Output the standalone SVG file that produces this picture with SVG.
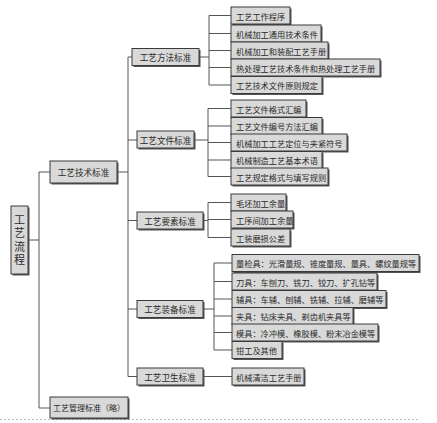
<svg xmlns="http://www.w3.org/2000/svg" width="437" height="423" viewBox="0 0 437 423">
<style>
.bg{fill:#ffffff}
.sh{fill:#555555}
.box{fill:#d9d9d9;stroke:#3a3a3a;stroke-width:1}
.ln{stroke:#555555;stroke-width:1;fill:none}
.t{font-family:"Noto Sans CJK SC","Noto Sans CJK JP",sans-serif;font-size:8.2px;fill:#2a2a2a;dominant-baseline:central}
.c{text-anchor:middle;font-size:8.6px}
.r{font-family:"Noto Sans CJK SC","Noto Sans CJK JP",sans-serif;font-size:11px;fill:#2a2a2a;writing-mode:vertical-rl;text-orientation:upright;letter-spacing:2.5px;text-anchor:middle}
.dot{stroke:#bbbbbb;stroke-width:1;stroke-dasharray:2 2;fill:none}
</style>
<rect class="bg" x="0" y="0" width="437" height="423"/>
<g id="connectors">
<path class="ln" d="M28 240H39M39 172V408M39 172H50M39 408H50"/>
<path class="ln" d="M117 172H128M128 57V376.5M128 57H132M128 140H137M128 220.5H137M128 309H137M128 376.5H137"/>
<path class="ln" d="M199 57H209M209 15.5V85M209 15.5H231M209 33.5H231M209 50.5H231M209 67.5H231M209 85H231"/>
<path class="ln" d="M194 140H208M208 108.5V176.5M208 108.5H231M208 126H231M208 142.5H231M208 160H231M208 176.5H231"/>
<path class="ln" d="M203 220.5H208M208 202.5V237.5M208 202.5H231M208 219.5H231M208 237.5H231"/>
<path class="ln" d="M203 309H214M214 263V350M214 263H232M214 281.5H232M214 299H232M214 316H232M214 332.5H232M214 350H232"/>
<path class="ln" d="M203 376.5H232"/>
</g>
<path class="dot" d="M0 419.5H420"/>
<g id="root">
<rect class="sh" x="12.5" y="207.5" width="17" height="68"/>
<rect class="box" x="11" y="206" width="17" height="68"/>
<text class="r" x="19.5" y="241">工艺流程</text>
</g>
<g id="n-jishu">
<rect class="sh" x="51.5" y="162.5" width="67" height="22"/>
<rect class="box" x="50" y="161" width="67" height="22"/>
<text class="t c" x="83.5" y="172">工艺技术标准</text>
</g>
<g id="n-guanli">
<rect class="sh" x="51.5" y="398.5" width="78" height="21"/>
<rect class="box" x="50" y="397" width="78" height="21"/>
<text class="t c" x="89" y="407.5" style="font-size:8px">工艺管理标准（略）</text>
</g>
<g id="n-fangfa">
<rect class="sh" x="133.5" y="50" width="67" height="17"/>
<rect class="box" x="132" y="48.5" width="67" height="17"/>
<text class="t c" x="165.5" y="57">工艺方法标准</text>
</g>
<g id="n-wenjian">
<rect class="sh" x="138.5" y="132.5" width="57" height="17"/>
<rect class="box" x="137" y="131" width="57" height="17"/>
<text class="t c" x="165.5" y="139.5">工艺文件标准</text>
</g>
<g id="n-yaosu">
<rect class="sh" x="138.5" y="213.5" width="66" height="17"/>
<rect class="box" x="137" y="212" width="66" height="17"/>
<text class="t c" x="170" y="220.5">工艺要素标准</text>
</g>
<g id="n-zhuangbei">
<rect class="sh" x="138.5" y="302" width="66" height="17"/>
<rect class="box" x="137" y="300.5" width="66" height="17"/>
<text class="t c" x="170" y="309">工艺装备标准</text>
</g>
<g id="n-weisheng">
<rect class="sh" x="138.5" y="369.5" width="66" height="17"/>
<rect class="box" x="137" y="368" width="66" height="17"/>
<text class="t c" x="170" y="376.5">工艺卫生标准</text>
</g>
<g id="f1"><rect class="sh" x="232.5" y="8.5" width="59" height="17"/><rect class="box" x="231" y="7" width="59" height="17"/><text class="t" x="236" y="15.5">工艺工作程序</text></g>
<g id="f2"><rect class="sh" x="232.5" y="26.5" width="90" height="17"/><rect class="box" x="231" y="25" width="90" height="17"/><text class="t" x="236" y="33.5">机械加工通用技术条件</text></g>
<g id="f3"><rect class="sh" x="232.5" y="43.5" width="97" height="17"/><rect class="box" x="231" y="42" width="97" height="17"/><text class="t" x="236" y="50.5">机械加工和装配工艺手册</text></g>
<g id="f4"><rect class="sh" x="232.5" y="60.5" width="149" height="17"/><rect class="box" x="231" y="59" width="149" height="17"/><text class="t" x="236" y="67.5">热处理工艺技术条件和热处理工艺手册</text></g>
<g id="f5"><rect class="sh" x="232.5" y="78" width="91" height="17"/><rect class="box" x="231" y="76.5" width="91" height="17"/><text class="t" x="236" y="85">工艺技术文件原则规定</text></g>
<g id="w1"><rect class="sh" x="232.5" y="101.5" width="75" height="17"/><rect class="box" x="231" y="100" width="75" height="17"/><text class="t" x="236" y="108.5">工艺文件格式汇编</text></g>
<g id="w2"><rect class="sh" x="232.5" y="119" width="91" height="17"/><rect class="box" x="231" y="117.5" width="91" height="17"/><text class="t" x="236" y="126">工艺文件编号方法汇编</text></g>
<g id="w3"><rect class="sh" x="232.5" y="135.5" width="116" height="17"/><rect class="box" x="231" y="134" width="116" height="17"/><text class="t" x="236" y="142.5">机械加工工艺定位与夹紧符号</text></g>
<g id="w4"><rect class="sh" x="232.5" y="153" width="91" height="17"/><rect class="box" x="231" y="151.5" width="91" height="17"/><text class="t" x="236" y="160">机械制造工艺基本术语</text></g>
<g id="w5"><rect class="sh" x="232.5" y="169.5" width="97" height="17"/><rect class="box" x="231" y="168" width="97" height="17"/><text class="t" x="236" y="176.5">工艺规定格式与填写规则</text></g>
<g id="y1"><rect class="sh" x="232.5" y="195.5" width="55" height="17"/><rect class="box" x="231" y="194" width="55" height="17"/><text class="t" x="236" y="202.5">毛坯加工余量</text></g>
<g id="y2"><rect class="sh" x="232.5" y="212.5" width="62" height="17"/><rect class="box" x="231" y="211" width="62" height="17"/><text class="t" x="236" y="219.5">工序间加工余量</text></g>
<g id="y3"><rect class="sh" x="232.5" y="230.5" width="59" height="17"/><rect class="box" x="231" y="229" width="59" height="17"/><text class="t" x="236" y="237.5">工装磨损公差</text></g>
<g id="z1"><rect class="sh" x="233.5" y="256" width="187" height="17"/><rect class="box" x="232" y="254.5" width="187" height="17"/><text class="t" x="236" y="263">量检具：光滑量规、锥度量规、量具、螺纹量规等</text></g>
<g id="z2"><rect class="sh" x="233.5" y="274.5" width="145" height="17"/><rect class="box" x="232" y="273" width="145" height="17"/><text class="t" x="236" y="281.5">刀具：车刨刀、铣刀、铰刀、扩孔钻等</text></g>
<g id="z3"><rect class="sh" x="233.5" y="292" width="154" height="17"/><rect class="box" x="232" y="290.5" width="154" height="17"/><text class="t" x="236" y="299">辅具：车辅、刨辅、铣辅、拉辅、磨辅等</text></g>
<g id="z4"><rect class="sh" x="233.5" y="309" width="121" height="17"/><rect class="box" x="232" y="307.5" width="121" height="17"/><text class="t" x="236" y="316">夹具：钻床夹具、剃齿机夹具等</text></g>
<g id="z5"><rect class="sh" x="233.5" y="325.5" width="146" height="17"/><rect class="box" x="232" y="324" width="146" height="17"/><text class="t" x="236" y="332.5">模具：冷冲模、橡胶模、粉末冶金模等</text></g>
<g id="z6"><rect class="sh" x="233.5" y="343" width="50" height="17"/><rect class="box" x="232" y="341.5" width="50" height="17"/><text class="t" x="236" y="350">钳工及其他</text></g>
<g id="s1"><rect class="sh" x="233.5" y="369.5" width="72" height="17"/><rect class="box" x="232" y="368" width="72" height="17"/><text class="t" x="236" y="376.5">机械清洁工艺手册</text></g>
</svg>
